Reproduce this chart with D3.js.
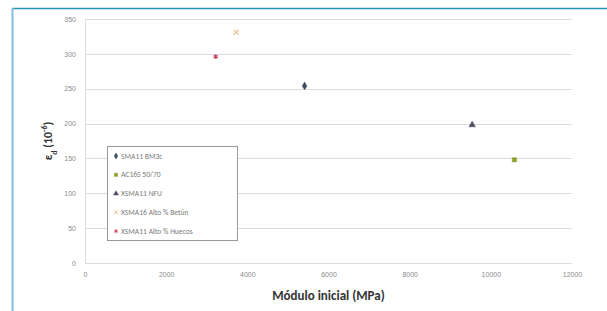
<!DOCTYPE html>
<html>
<head>
<meta charset="utf-8">
<script src="https://cdn.jsdelivr.net/npm/d3@7"></script>
<style>
  body { margin: 0; background: #fff; }
  svg { display: block; font-family: Calibri, "Liberation Sans", "Open Sans", sans-serif; }
</style>
</head>
<body>
<svg></svg>
<script>
let series = ["SMA11 BM3c", "AC16S 50/70", "XSMA11 NFU", "XSMA16 Alto % Betún", "XSMA11 Alto % Huecos"];
let modulo = [5410, 10580, 9540, 3730, 3220];
let deform = [254, 148, 198, 331, 296];

let xTicks = [0, 2000, 4000, 6000, 8000, 10000, 12000];
let yTicks = [0, 50, 100, 150, 200, 250, 300, 350];

let width = 607;
let height = 311;
let plotLeft = 85, plotRight = 572, plotTop = 19, plotBottom = 263;

let colors = ["#3d4a5c", "#8aa12c", "#4f4b63", "#f2b97f", "#d23c5a"];
let shapes = [d3.symbolDiamond, d3.symbolSquare, d3.symbolTriangle, d3.symbolTimes, d3.symbolAsterisk];
let stroked = [false, false, false, true, true];

let svg = d3.select("svg").attr("width", width).attr("height", height);

// marco azul
svg.append("line").attr("x1", 12).attr("x2", width).attr("y1", 8.5).attr("y2", 8.5)
  .attr("stroke", "#2a93b8").attr("stroke-width", 1.5);
svg.append("line").attr("x1", 12.5).attr("x2", 12.5).attr("y1", 8).attr("y2", height)
  .attr("stroke", "#80c0dc").attr("stroke-width", 2);

let xScale = d3.scaleLinear().domain([0, 12000]).range([plotLeft, plotRight]);
let yScale = d3.scaleLinear().domain([0, 350]).range([plotBottom, plotTop]);

// rejilla
svg.append("g")
  .selectAll("line")
  .data(yTicks)
  .enter()
  .append("line")
  .attr("x1", plotLeft).attr("x2", plotRight)
  .attr("y1", (d) => Math.round(yScale(d)) + 0.5)
  .attr("y2", (d) => Math.round(yScale(d)) + 0.5)
  .attr("stroke", "#dcdcdc");

svg.append("line").attr("x1", plotLeft + 0.5).attr("x2", plotLeft + 0.5).attr("y1", plotTop).attr("y2", plotBottom)
  .attr("stroke", "#dcdcdc");

let xAxis = d3.axisBottom(xScale).tickValues(xTicks).tickSize(0).tickPadding(9).tickFormat(d3.format("d"));
let yAxis = d3.axisLeft(yScale).tickValues(yTicks).tickSize(0).tickPadding(9).tickFormat(d3.format("d"));

let gx = svg.append("g").attr("transform", "translate(0," + plotBottom + ")").call(xAxis);
let gy = svg.append("g").attr("transform", "translate(" + plotLeft + ",0)").call(yAxis);
[gx, gy].forEach((g) => {
  g.select(".domain").remove();
  g.selectAll("text").attr("fill", "#8a8a8a").style("font-size", "7px");
});

// puntos
svg.append("g")
  .selectAll("path")
  .data(series)
  .enter()
  .append("path")
  .attr("transform", (d, i) => "translate(" + xScale(modulo[i]) + "," + yScale(deform[i]) + ")")
  .attr("d", (d, i) => d3.symbol().type(shapes[i]).size(stroked[i] ? 16 : 18)())
  .attr("fill", (d, i) => stroked[i] ? "none" : colors[i])
  .attr("stroke", (d, i) => colors[i])
  .attr("stroke-width", (d, i) => stroked[i] ? 1.2 : 0.5);

// leyenda
let legend = svg.append("g");
legend.append("rect").attr("x", 107.5).attr("y", 146.5).attr("width", 130).attr("height", 94)
  .attr("fill", "#fff").attr("stroke", "#9a9a9a");

let items = legend.selectAll("g.item")
  .data(series)
  .enter()
  .append("g")
  .attr("class", "item")
  .attr("transform", (d, i) => "translate(116," + (156 + i * 18.8) + ")");

items.append("path")
  .attr("d", (d, i) => d3.symbol().type(shapes[i]).size(stroked[i] ? 10 : 11)())
  .attr("fill", (d, i) => stroked[i] ? "none" : colors[i])
  .attr("stroke", (d, i) => colors[i])
  .attr("stroke-width", (d, i) => stroked[i] ? 1 : 0.4);

items.append("text")
  .attr("x", 5)
  .attr("dy", "0.35em")
  .attr("fill", "#7a7a7a")
  .style("font-size", "7.6px")
  .text((d) => d);

// títulos de ejes
svg.append("text")
  .attr("x", (plotLeft + plotRight) / 2)
  .attr("y", 300)
  .attr("text-anchor", "middle")
  .attr("fill", "#333")
  .style("font-size", "13px")
  .style("font-weight", "bold")
  .text("Módulo inicial (MPa)");

let yt = svg.append("text")
  .attr("transform", "translate(52,141) rotate(-90)")
  .attr("text-anchor", "middle")
  .attr("fill", "#333")
  .style("font-size", "12px")
  .style("font-weight", "bold");
yt.append("tspan").text("ε");
yt.append("tspan").attr("baseline-shift", "sub").style("font-size", "8px").text("d");
yt.append("tspan").text(" (10");
yt.append("tspan").attr("baseline-shift", "super").style("font-size", "8px").text("-6");
yt.append("tspan").text(")");
</script>
</body>
</html>
